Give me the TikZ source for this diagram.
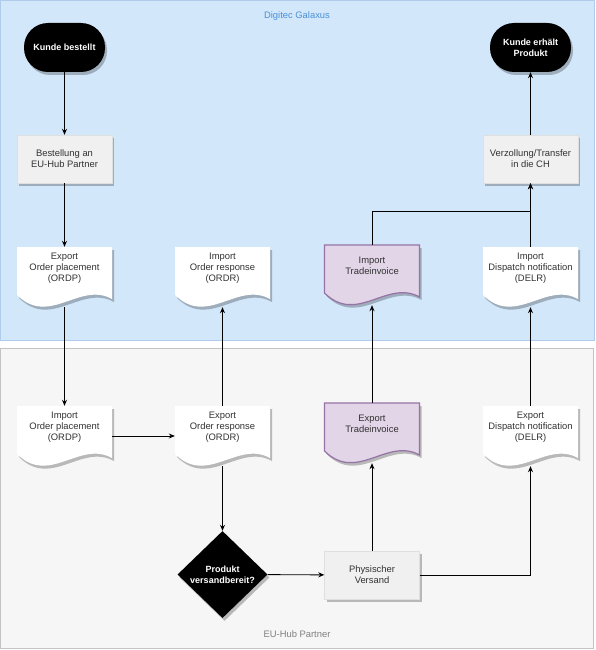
\documentclass[tikz,border=0pt]{standalone}
\usepackage{fontspec}
\setmainfont{Liberation Sans}
\usetikzlibrary{arrows.meta,shapes.geometric,shadows}

\definecolor{laneblue}{RGB}{211,231,250}
\definecolor{laneblueline}{RGB}{175,205,235}
\definecolor{lanegrey}{RGB}{246,246,246}
\definecolor{lanegreyline}{RGB}{195,195,195}
\definecolor{titleblue}{RGB}{74,144,217}
\definecolor{boxfill}{RGB}{240,240,240}
\definecolor{purplefill}{RGB}{225,213,231}
\definecolor{purpleline}{RGB}{150,115,166}
\definecolor{textgrey}{RGB}{50,50,50}

\newcommand{\txtfont}{\fontsize{9.4}{11}\selectfont}

\tikzset{
	dshadow/.style={drop shadow={shadow xshift=2pt,shadow yshift=-3pt,opacity=0.25,fill=black}},
	terminal/.style={fill=black,rounded corners=24pt,minimum width=81pt,minimum height=49pt,
		text=white,font=\fontsize{9}{11}\selectfont\bfseries,align=center,dshadow},
	decision/.style={diamond,aspect=1,fill=black,minimum width=90pt,minimum height=87pt,inner sep=0pt,
		text=white,font=\fontsize{9}{11}\selectfont\bfseries,align=center,dshadow},
	process/.style={fill=boxfill,draw=gray!25,minimum width=95pt,minimum height=48pt,
		text=textgrey,font=\txtfont,align=center,dshadow},
	docwhite/.style={fill=white,dshadow},
	docpurple/.style={fill=purplefill,draw=purpleline,line width=1.2pt,dshadow},
	docbox/.style={minimum width=95pt,minimum height=60pt,inner sep=0pt},
	doclabel/.style={text=textgrey,font=\txtfont,align=center},
	lanetitle/.style={font=\txtfont},
	flow/.style={draw=black,line width=0.9pt,-{Stealth[length=6pt,width=5pt]}}
}

% document shape: name, x center, y top, style, text
\newcommand{\docnode}[5]{%
	\path[#4] (#2-47.5,#3) -- (#2+47.5,#3) -- (#2+47.5,#3+52)
		.. controls (#2+15,#3+34) and (#2-15,#3+80) .. (#2-47.5,#3+48) -- cycle;
	\node[docbox] (#1) at (#2,#3+30) {};
	\node[doclabel] at (#2,#3+21) {#5};
}

\begin{document}
\begin{tikzpicture}[x=1pt,y=-1pt]

	\useasboundingbox (0,0) rectangle (595,650);

	%swimlanes
	\draw[fill=laneblue,draw=laneblueline] (0.5,0.5) rectangle (594,340);
	\draw[fill=lanegrey,draw=lanegreyline] (0.5,348) rectangle (593,648);
	\node[lanetitle,text=titleblue] (dgtitle) at (297,16) {Digitec Galaxus};
	\node[lanetitle,text=gray] (eutitle) at (297,634) {EU-Hub Partner};

	%Digitec Galaxus
	\node[terminal] (kb) at (64.5,47.5) {Kunde bestellt};
	\node[terminal] (ke) at (530.5,47.5) {Kunde erhält\\Produkt};
	\node[process] (best) at (64.5,159) {Bestellung an\\EU-Hub Partner};
	\node[process] (verz) at (530.5,159) {Verzollung/Transfer\\in die CH};
	\docnode{eordp}{64.5}{247}{docwhite}{Export\\Order placement\\(ORDP)}
	\docnode{iordr}{222.5}{247}{docwhite}{Import\\Order response\\(ORDR)}
	\docnode{itrade}{372}{245}{docpurple}{Import\\Tradeinvoice}
	\docnode{idelr}{530.5}{247}{docwhite}{Import\\Dispatch notification\\(DELR)}

	%EU-Hub Partner
	\docnode{iordp}{64.5}{406}{docwhite}{Import\\Order placement\\(ORDP)}
	\docnode{eordr}{222.5}{406}{docwhite}{Export\\Order response\\(ORDR)}
	\docnode{etrade}{372}{403}{docpurple}{Export\\Tradeinvoice}
	\docnode{edelr}{530.5}{406}{docwhite}{Export\\Dispatch notification\\(DELR)}
	\node[decision] (prod) at (222.5,574.5) {Produkt\\versandbereit?};
	\node[process] (vers) at (372,575) {Physischer\\Versand};

	%connectors
	\draw[flow] (kb) -- (best);
	\draw[flow] (best) -- (eordp);
	\draw[flow] (eordp) -- (iordp);
	\draw[flow] (iordp) -- (eordr);
	\draw[flow] (eordr) -- (iordr);
	\draw[flow] (eordr) -- (prod);
	\draw[flow] (prod) -- (vers);
	\draw[flow] (vers) -- (etrade);
	\draw[flow] (vers.east) -| (edelr.south);
	\draw[flow] (etrade) -- (itrade);
	\draw[flow] (edelr) -- (idelr);
	\draw[flow] (idelr) -- (verz);
	\draw[flow] (itrade.north) -- ++(0,-33) -| (verz.south);
	\draw[flow] (verz) -- (ke);

\end{tikzpicture}
\end{document}
